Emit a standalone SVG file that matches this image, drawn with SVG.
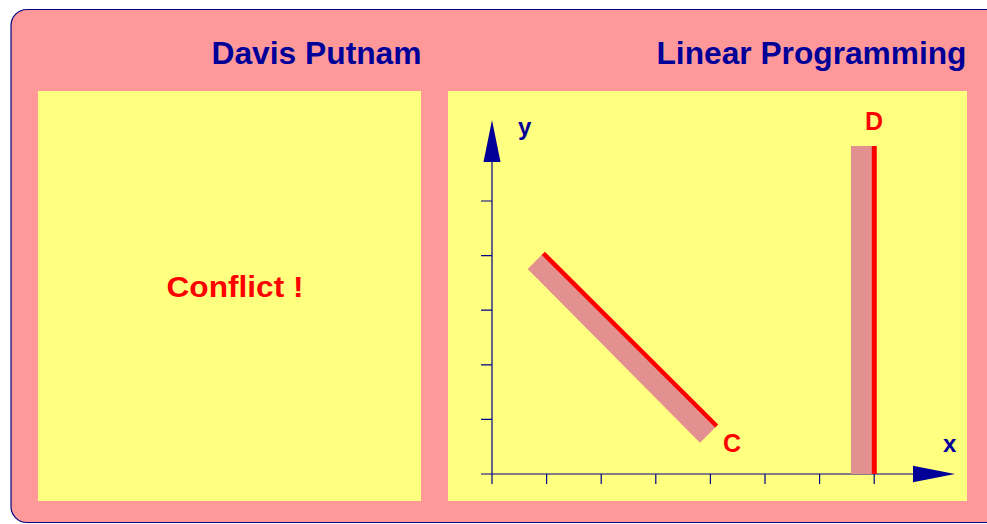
<svg xmlns="http://www.w3.org/2000/svg" width="987" height="524" viewBox="0 0 987 524">
<style>
.title{font-family:"Liberation Sans",Arial,sans-serif;font-weight:bold;font-size:31px;fill:#000099}
.red{font-family:"Liberation Sans",Arial,sans-serif;font-weight:bold;fill:#ff0000}
.ax{font-family:"Liberation Sans",Arial,sans-serif;font-weight:bold;font-size:24px;fill:#000099}
.axis{stroke:#000088;stroke-width:1.2;fill:none}
.box{fill:#ffff80}
.band{fill:#e39090}
</style>
<g id="background">
<rect x="11" y="9.5" width="1000" height="513" rx="16" ry="16" fill="#ff9999" stroke="#000080" stroke-width="1.2"/>
</g>
<g id="davis-putnam">
<text class="title" x="211.5" y="64" textLength="210" lengthAdjust="spacingAndGlyphs">Davis Putnam</text>
<rect class="box" x="38" y="91" width="383" height="410"/>
<text class="red" x="166.5" y="297" font-size="29" textLength="137" lengthAdjust="spacingAndGlyphs">Conflict !</text>
</g>
<g id="linear-programming">
<text class="title" x="656.5" y="64" textLength="310" lengthAdjust="spacingAndGlyphs">Linear Programming</text>
<rect class="box" x="448" y="91" width="519" height="410"/>
</g>
<g id="axes">
<path class="axis" d="M481 474H914 M492 484V160 M492 474v10 M546.6 474v10 M601.2 474v10 M655.8 474v10 M710.4 474v10 M765 474v10 M819.6 474v10 M874.2 474v10 M481 419.4h11 M481 364.8h11 M481 310.2h11 M481 255.6h11 M481 201h11"/>
<polygon points="913,465.7 955,474 913,482.3" fill="#000099"/>
<polygon points="483.5,162 492,120 500.5,162" fill="#000099"/>
<text class="ax" x="943" y="452">x</text>
<text class="ax" x="518" y="135">y</text>
</g>
<g id="constraint-c">
<polygon class="band" points="543.3,253.3 716.7,426 700,442.7 527.7,269"/>
<line x1="543.3" y1="253.3" x2="716.7" y2="426" stroke="#ff0000" stroke-width="4.5"/>
<text class="red" x="723" y="452" font-size="25">C</text>
</g>
<g id="constraint-d">
<rect class="band" x="851" y="146" width="22" height="328"/>
<line x1="874.3" y1="146" x2="874.3" y2="474" stroke="#ff0000" stroke-width="5"/>
<text class="red" x="865" y="130" font-size="25">D</text>
</g>
</svg>
